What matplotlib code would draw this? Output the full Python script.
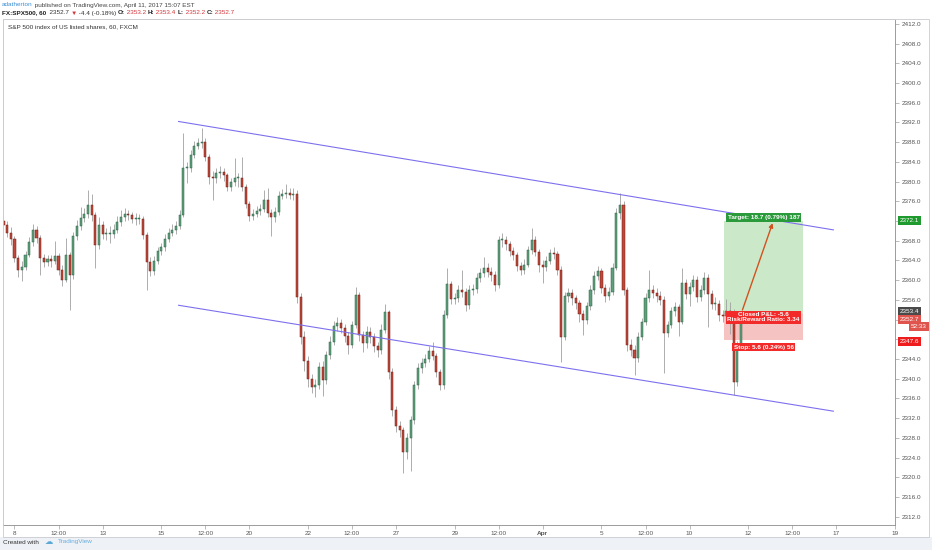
import numpy as np
import matplotlib

matplotlib.use("Agg")
import matplotlib.pyplot as plt
from matplotlib.patches import Rectangle
from matplotlib.ticker import FuncFormatter

plt.rcParams["font.family"] = ["Liberation Sans", "DejaVu Sans"]

# FX:SPX500 60 min, sampled as 8 bars per session; x unit = one session from Mar 8
bar_start = -0.375
bar_step = 0.125
first_open = 2372.0
close = [
    2371.2, 2369.6, 2368.4, 2364.5, 2362.1, 2362.7, 2365.1, 2367.7, 2370.2, 2368.6,
    2364.5, 2363.7, 2364.3, 2363.9, 2364.9, 2362.1, 2360.0, 2365.1, 2361.0, 2369.0,
    2371.0, 2372.6, 2373.4, 2375.3, 2373.2, 2367.1, 2371.2, 2369.4, 2369.4, 2369.4,
    2370.2, 2371.8, 2372.8, 2373.4, 2373.2, 2372.4, 2372.4, 2372.4, 2369.2, 2363.7,
    2361.9, 2363.9, 2365.9, 2366.7, 2368.4, 2369.6, 2370.2, 2371.0, 2373.2, 2382.8,
    2382.8, 2385.4, 2387.2, 2387.8, 2388.0, 2385.0, 2381.0, 2380.7, 2381.7, 2382.0,
    2381.3, 2378.9, 2379.9, 2380.7, 2380.7, 2378.9, 2375.5, 2373.0, 2373.4, 2374.0,
    2374.4, 2376.3, 2373.6, 2372.8, 2373.8, 2377.1, 2377.5, 2377.7, 2377.3, 2377.5,
    2356.6, 2348.5, 2343.6, 2339.9, 2338.3, 2338.7, 2342.4, 2339.7, 2344.8, 2347.4,
    2350.7, 2351.3, 2350.3, 2348.7, 2346.8, 2350.9, 2357.0, 2348.9, 2347.2, 2349.5,
    2348.5, 2346.6, 2345.8, 2349.9, 2353.5, 2341.4, 2333.6, 2330.4, 2329.6, 2325.1,
    2328.0, 2331.6, 2338.7, 2342.2, 2343.2, 2344.0, 2345.6, 2344.6, 2341.4, 2338.7,
    2353.0, 2359.2, 2356.2, 2356.4, 2358.0, 2357.6, 2355.0, 2358.0, 2358.2, 2360.4,
    2361.4, 2362.5, 2361.6, 2361.0, 2359.0, 2368.1, 2368.1, 2367.3, 2365.9, 2365.1,
    2362.9, 2362.1, 2363.1, 2366.1, 2368.1, 2365.7, 2363.1, 2362.7, 2363.9, 2365.5,
    2365.3, 2362.1, 2348.5, 2356.8, 2357.4, 2356.4, 2355.4, 2353.1, 2351.9, 2354.7,
    2358.0, 2360.8, 2361.8, 2358.4, 2356.8, 2357.6, 2362.5, 2373.6, 2375.3, 2358.0,
    2346.8, 2345.8, 2344.2, 2348.5, 2351.5, 2356.4, 2358.0, 2357.4, 2356.8, 2356.0,
    2349.3, 2350.9, 2353.7, 2354.5, 2351.5, 2359.4, 2357.2, 2358.6, 2360.0, 2356.6,
    2358.0, 2360.4, 2357.2, 2355.2, 2355.2, 2352.9, 2352.7, 2353.7, 2353.3, 2339.3,
    2346.8, 2352.7,
]
high = [
    2373.0, 2372.0, 2370.8, 2369.0, 2365.2, 2363.8, 2366.0, 2368.8, 2371.4, 2371.0,
    2369.2, 2365.4, 2365.2, 2365.0, 2368.0, 2365.6, 2363.0, 2368.5, 2365.8, 2369.8,
    2372.2, 2374.8, 2374.6, 2378.3, 2377.5, 2373.8, 2372.8, 2372.0, 2370.6, 2371.0,
    2371.4, 2373.0, 2374.2, 2374.6, 2374.2, 2373.8, 2373.6, 2373.4, 2373.0, 2369.8,
    2364.6, 2364.8, 2366.8, 2367.6, 2369.4, 2370.6, 2371.4, 2372.0, 2374.2, 2389.9,
    2384.0, 2386.4, 2388.2, 2388.8, 2390.9, 2388.8, 2385.6, 2382.2, 2382.8, 2383.2,
    2382.8, 2381.8, 2380.8, 2384.8, 2381.8, 2385.0, 2379.6, 2376.0, 2374.4, 2375.0,
    2375.4, 2378.2, 2378.6, 2374.4, 2374.8, 2378.0, 2378.4, 2379.6, 2378.6, 2378.6,
    2378.2, 2357.4, 2349.6, 2344.6, 2341.0, 2340.0, 2343.4, 2343.6, 2345.6, 2348.6,
    2351.8, 2352.6, 2352.2, 2351.0, 2349.4, 2351.8, 2358.6, 2357.6, 2349.6, 2350.6,
    2350.4, 2349.2, 2347.4, 2351.0, 2355.2, 2354.0, 2342.2, 2334.4, 2331.4, 2330.2,
    2329.0, 2332.4, 2339.6, 2343.2, 2344.2, 2345.0, 2346.6, 2347.4, 2345.2, 2342.0,
    2354.0, 2362.4, 2359.8, 2357.4, 2359.0, 2362.0, 2358.4, 2359.0, 2359.2, 2361.4,
    2362.4, 2364.6, 2363.4, 2362.6, 2361.8, 2369.0, 2369.6, 2369.0, 2368.0, 2366.8,
    2365.8, 2363.6, 2364.2, 2367.0, 2370.6, 2369.0, 2366.4, 2364.0, 2364.8, 2366.4,
    2366.8, 2366.0, 2362.8, 2357.6, 2358.4, 2358.2, 2357.0, 2356.0, 2354.0, 2355.6,
    2359.0, 2361.8, 2362.8, 2362.4, 2359.2, 2358.6, 2363.4, 2374.6, 2377.7, 2376.0,
    2358.6, 2348.0, 2346.8, 2349.4, 2352.4, 2357.4, 2362.0, 2359.0, 2358.4, 2357.8,
    2356.8, 2351.8, 2354.6, 2355.6, 2355.2, 2362.4, 2360.2, 2359.6, 2361.0, 2360.8,
    2359.0, 2361.6, 2361.2, 2358.0, 2356.6, 2356.0, 2354.0, 2356.2, 2355.6, 2354.2,
    2347.6, 2353.4,
]
low = [
    2370.4, 2368.8, 2367.2, 2363.6, 2360.6, 2359.8, 2362.0, 2364.6, 2367.0, 2367.6,
    2361.0, 2362.6, 2362.8, 2362.6, 2363.2, 2361.0, 2358.8, 2359.6, 2354.0, 2360.2,
    2368.2, 2370.2, 2371.8, 2372.6, 2372.0, 2362.5, 2366.4, 2368.4, 2368.2, 2367.5,
    2368.6, 2369.6, 2371.0, 2372.0, 2372.2, 2371.6, 2371.2, 2371.4, 2368.4, 2357.9,
    2360.8, 2361.0, 2363.2, 2365.0, 2366.0, 2367.8, 2369.0, 2369.4, 2370.4, 2372.8,
    2379.8, 2382.0, 2384.8, 2386.6, 2386.8, 2384.2, 2379.6, 2376.3, 2379.8, 2380.8,
    2380.2, 2378.0, 2378.0, 2379.2, 2379.0, 2378.0, 2374.6, 2372.0, 2372.2, 2372.8,
    2373.2, 2373.8, 2372.8, 2369.0, 2371.8, 2373.2, 2376.4, 2376.6, 2376.4, 2376.2,
    2355.4, 2347.0, 2341.6, 2338.4, 2337.0, 2336.3, 2338.0, 2336.4, 2339.0, 2344.0,
    2346.8, 2349.6, 2349.2, 2347.4, 2345.0, 2346.2, 2350.2, 2347.6, 2345.4, 2346.2,
    2347.2, 2345.4, 2344.4, 2345.0, 2349.2, 2340.0, 2332.4, 2329.2, 2328.2, 2320.9,
    2323.6, 2321.2, 2330.8, 2338.0, 2341.2, 2342.4, 2343.4, 2343.8, 2340.4, 2337.6,
    2338.0, 2352.4, 2355.2, 2355.2, 2355.6, 2356.6, 2353.8, 2354.2, 2357.0, 2357.4,
    2359.6, 2360.6, 2360.6, 2359.8, 2357.8, 2358.4, 2366.8, 2366.2, 2364.8, 2364.0,
    2361.8, 2361.0, 2361.2, 2362.6, 2365.4, 2364.8, 2361.6, 2359.4, 2361.8, 2363.2,
    2364.2, 2361.0, 2343.4, 2347.8, 2355.6, 2355.0, 2354.2, 2351.6, 2348.8, 2351.0,
    2354.0, 2357.2, 2360.0, 2357.4, 2355.6, 2356.0, 2357.0, 2362.0, 2372.4, 2357.0,
    2345.6, 2344.6, 2340.7, 2343.4, 2347.8, 2350.8, 2355.6, 2356.4, 2355.6, 2355.0,
    2341.2, 2348.4, 2350.2, 2352.8, 2348.6, 2351.0, 2356.2, 2354.8, 2357.8, 2355.6,
    2355.8, 2357.2, 2350.5, 2354.2, 2354.0, 2351.8, 2351.6, 2352.0, 2349.0, 2336.7,
    2338.6, 2346.2,
]

tick_pos = [0, 1.5, 3, 5, 6.5, 8, 10, 11.5, 13, 15, 16.5, 18, 20, 21.5, 23, 25, 26.5, 28, 30]
tick_labels = ["8", "12:00", "13", "15", "12:00", "20", "22", "12:00", "27", "29",
               "12:00", "Apr", "5", "12:00", "10", "12", "12:00", "17", "19"]
price_ticks = np.arange(2312, 2413, 4)
hidden_ticks = [2372, 2352, 2348]  # covered by the price tags on the scale

# drawings: trend channel, long position
upper_line = ([5.59, 27.9], [2392.2, 2370.2])
lower_line = ([5.59, 27.9], [2354.9, 2333.4])
pos_start, pos_end = 24.19, 26.85
entry, target, stop = 2353.4, 2372.1, 2347.8
last_price, prev_close_price, stop_label = 2352.7, 2353.4, 2347.6

W, H = 932, 550
RED = "#d0383c"
fig = plt.figure(figsize=(W / 100, H / 100), dpi=100)
fig.patch.set_facecolor("white")
fig.add_artist(Rectangle((0, 0), 1, 13 / H, transform=fig.transFigure, fc="#eef1f5", ec="none", zorder=0))
fig.add_artist(Rectangle((3 / W, 1 - 537 / H), 926 / W, 518 / H, transform=fig.transFigure,
                         fill=False, ec="#c9cbd0", lw=0.6, zorder=1))

ax = fig.add_axes([3 / W, 1 - 525 / H, 892 / W, 506 / H])
ax.set_xlim(30 - 892 / 29.35, 30)
ax.set_ylim(2310.3, 2413.0)

x = bar_start + bar_step * np.arange(len(close))
c = np.array(close)
o = np.r_[first_open, c[:-1]]
up = c >= o
ax.vlines(x, low, high, color="#a0a0a0", lw=0.6, zorder=2)
ax.bar(x, np.maximum(np.abs(c - o), 0.2), width=0.07, bottom=np.minimum(o, c),
       color=np.where(up, "#5f9f7c", "#c2473a"), edgecolor=np.where(up, "#2f6246", "#6b2018"),
       linewidth=0.35, zorder=3)

for xs, ys in (upper_line, lower_line):
    ax.plot(xs, ys, color="#7d70ee", lw=0.8, zorder=4)

ax.add_patch(Rectangle((pos_start, entry), pos_end - pos_start, target - entry,
                       fc="#cbe9c9", ec="none", zorder=1))
ax.add_patch(Rectangle((pos_start, stop), pos_end - pos_start, entry - stop,
                       fc="#f6c3c3", ec="none", zorder=1))
ax.annotate("", xy=(25.86, target), xytext=(24.77, entry),
            arrowprops={"arrowstyle": "-|>", "color": "#d2521f", "lw": 1.0, "mutation_scale": 6}, zorder=5)

mid = (pos_start + pos_end) / 2
lab = {"fontsize": 4.6, "color": "white", "fontweight": "bold", "ha": "center", "va": "center", "zorder": 6}
ax.text(mid, target + 0.6, "Target: 18.7 (0.79%) 187", bbox={"boxstyle": "square,pad=0.25", "fc": "#2a9a3a", "ec": "none"}, **lab)
ax.text(mid, entry - 0.9, "Closed P&L: -5.6\nRisk/Reward Ratio: 3.34", linespacing=0.95,
        bbox={"boxstyle": "square,pad=0.25", "fc": "#f22a2a", "ec": "none"}, **lab)
ax.text(mid, stop - 1.4, "Stop: 5.6 (0.24%) 56", bbox={"boxstyle": "square,pad=0.25", "fc": "#f22a2a", "ec": "none"}, **lab)

ax.text(5 / 892, 1 - 8 / 506, "S&P 500 index of US listed shares, 60, FXCM", transform=ax.transAxes,
        fontsize=4.6, color="#333333", va="center", ha="left")

# axes styling
ax.yaxis.tick_right()
ax.set_yticks(price_ticks)
ax.yaxis.set_major_formatter(FuncFormatter(lambda v, _: "" if round(v) in hidden_ticks else f"{v:.1f}"))
ax.set_xticks(tick_pos)
ax.set_xticklabels(tick_labels)
for t in ax.get_xticklabels():
    if t.get_text() == "Apr":
        t.set_fontweight("bold")
        t.set_color("#333333")
ax.tick_params(axis="y", length=3, width=0.5, color="#a0a0a0", pad=2, labelsize=4.6, labelcolor="#555555")
ax.tick_params(axis="x", length=3, width=0.5, color="#a0a0a0", pad=1, labelsize=4.6, labelcolor="#555555")
for side in ("top", "left"):
    ax.spines[side].set_color("#d4d6da")
for side in ("right", "bottom"):
    ax.spines[side].set_color("#8c8c8c")
for s in ax.spines.values():
    s.set_linewidth(0.6)

# price tags on the scale
yax = ax.get_yaxis_transform()
tag = {"xycoords": yax, "textcoords": "offset pixels", "fontsize": 4.6, "color": "white",
       "va": "center", "annotation_clip": False, "zorder": 7}
box = {"boxstyle": "square,pad=0.3", "ec": "none"}
ax.annotate(f"{target:.1f}", xy=(1, target), xytext=(5, 0), ha="left", bbox={**box, "fc": "#1f9a2e"}, **tag)
ax.annotate(f"{prev_close_price:.1f}", xy=(1, prev_close_price), xytext=(5, 1), ha="left",
            bbox={**box, "fc": "#4a4a4a"}, **tag)
ax.annotate(f"{last_price:.1f}", xy=(1, last_price), xytext=(5, -3), ha="left",
            bbox={**box, "fc": "#e0544e"}, **tag)
ax.annotate("52:33", xy=(1, last_price), xytext=(32, -10), ha="right",
            bbox={**box, "fc": "#e0544e"}, **tag)
ax.annotate(f"{stop_label:.1f}", xy=(1, stop_label), xytext=(5, 0), ha="left",
            bbox={**box, "fc": "#ee1c1c"}, **tag)


def chain(parts, x0, y0):
    prev = None
    for text, color, weight in parts:
        kw = {"fontsize": 4.6, "color": color, "fontweight": weight, "va": "center", "ha": "left"}
        if prev is None:
            prev = fig.text(x0, y0, text, **kw)
        else:
            prev = ax.annotate(text, xy=(1, 0.5), xycoords=prev, annotation_clip=False, **kw)


chain([("adatherton", "#3b8fd6", "normal"),
       (" published on TradingView.com, April 11, 2017 15:07 EST", "#444444", "normal")],
      2 / W, 1 - 5 / H)
chain([("FX:SPX500, 60", "#222222", "bold"), ("  2352.7 ", "#333333", "normal"), ("▼", RED, "normal"),
       (" -4.4 (-0.18%) ", "#333333", "normal"), ("O:", "#222222", "bold"), (" 2353.2 ", RED, "normal"),
       ("H:", "#222222", "bold"), (" 2353.4 ", RED, "normal"), ("L:", "#222222", "bold"),
       (" 2352.2 ", RED, "normal"), ("C:", "#222222", "bold"), (" 2352.7", RED, "normal")],
      2 / W, 1 - 13 / H)

fig.text(3 / W, 1 - 542 / H, "Created with", fontsize=4.6, color="#333333", va="center", ha="left")
fig.text(45 / W, 1 - 542 / H, "☁", fontsize=6, color="#5aa7d8", va="center", ha="left",
         family=["DejaVu Sans"])
fig.text(58 / W, 1 - 542 / H, "TradingView", fontsize=4.6, color="#6aaede", va="center", ha="left")

fig.savefig("out.png", dpi=100)
plt.close(fig)
